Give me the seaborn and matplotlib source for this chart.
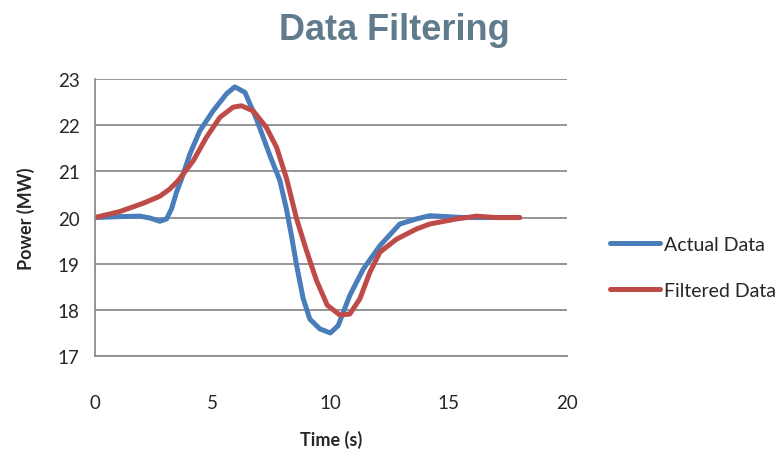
import matplotlib
matplotlib.use("Agg")
import matplotlib.pyplot as plt
import seaborn as sns
import pandas as pd

# values
actual_t = [0, 1.06, 1.91, 2.33, 2.75, 3.04, 3.25, 3.46, 3.67, 4.03, 4.45, 5.01,
            5.58, 5.93, 6.36, 6.85, 7.42, 7.84, 8.12, 8.33, 8.55, 8.83, 9.11, 9.53,
            9.98, 10.31, 10.8, 11.37, 12.08, 12.92, 13.62, 14.19, 15.6, 17, 18]
actual_p = [20.0, 20.02, 20.03, 19.99, 19.92, 19.97, 20.19, 20.55, 20.83, 21.38,
            21.88, 22.31, 22.68, 22.83, 22.71, 22.13, 21.34, 20.8, 20.18, 19.61,
            18.96, 18.24, 17.8, 17.59, 17.5, 17.66, 18.31, 18.88, 19.39, 19.86,
            19.97, 20.04, 20.0, 20.0, 20.0]

filtered_t = [0, 1.06, 2.05, 2.75, 3.18, 3.53, 4.17, 4.73, 5.3, 5.86, 6.21, 6.71,
              7.27, 7.7, 8.12, 8.55, 8.97, 9.39, 9.85, 10.38, 10.8, 11.23, 11.65,
              12.08, 12.78, 13.62, 14.19, 15.32, 16.17, 17.01, 18]
filtered_p = [20.0, 20.13, 20.31, 20.46, 20.62, 20.8, 21.23, 21.74, 22.17, 22.39,
              22.42, 22.31, 21.95, 21.52, 20.85, 19.97, 19.28, 18.64, 18.1, 17.89,
              17.91, 18.24, 18.81, 19.25, 19.53, 19.75, 19.86, 19.97, 20.03, 20.0, 20.0]

x_ticks = [0, 5, 10, 15, 20]
y_ticks = [17, 18, 19, 20, 21, 22, 23]

df = pd.concat([
    pd.DataFrame({"t": actual_t, "p": actual_p, "series": "Actual Data"}),
    pd.DataFrame({"t": filtered_t, "p": filtered_p, "series": "Filtered Data"}),
])

sns.set_style("white")
plt.rcParams["font.family"] = ["Lato", "DejaVu Sans"]

fig = plt.figure(figsize=(7.84, 4.52), dpi=100)
ax = fig.add_axes([0.121, 0.21, 0.602, 0.613])

sns.lineplot(data=df, x="t", y="p", hue="series", sort=False,
             palette={"Actual Data": "#4a7ebb", "Filtered Data": "#be4b48"},
             linewidth=3.6, ax=ax, solid_joinstyle="round", solid_capstyle="round")

ax.set_xlim(0, 20)
ax.set_ylim(17, 23)
ax.set_xticks(x_ticks)
ax.set_yticks(y_ticks)
ax.yaxis.grid(True, color="#8c8c8c", linewidth=1.3)
ax.set_axisbelow(True)
for s in ["top", "right"]:
    ax.spines[s].set_visible(False)
for s in ["left", "bottom"]:
    ax.spines[s].set_color("#8c8c8c")
    ax.spines[s].set_linewidth(1.3)
ax.tick_params(axis="both", direction="out", length=5, width=1.3, color="#8c8c8c",
               labelsize=13.5, pad=6)
ax.tick_params(axis="x", pad=22)

ax.set_xlabel("Time (s)", fontsize=13, fontweight="bold", labelpad=14)
ax.set_ylabel("Power (MW)", fontsize=13, fontweight="bold", labelpad=16)

fig.text(0.503, 0.932, "Data Filtering", ha="center", va="center", fontsize=26,
         fontweight="bold", color="#607b8b",
         family=["Liberation Sans Narrow", "Liberation Sans", "DejaVu Sans"])

leg = ax.legend(loc="center left", bbox_to_anchor=(1.091, 0.321), frameon=False,
                handlelength=2.6, handletextpad=0.2, labelspacing=1.5,
                borderaxespad=0, borderpad=0, prop={"family": ["Lato", "DejaVu Sans"], "size": 14})

fig.savefig("out.png", dpi=100)
